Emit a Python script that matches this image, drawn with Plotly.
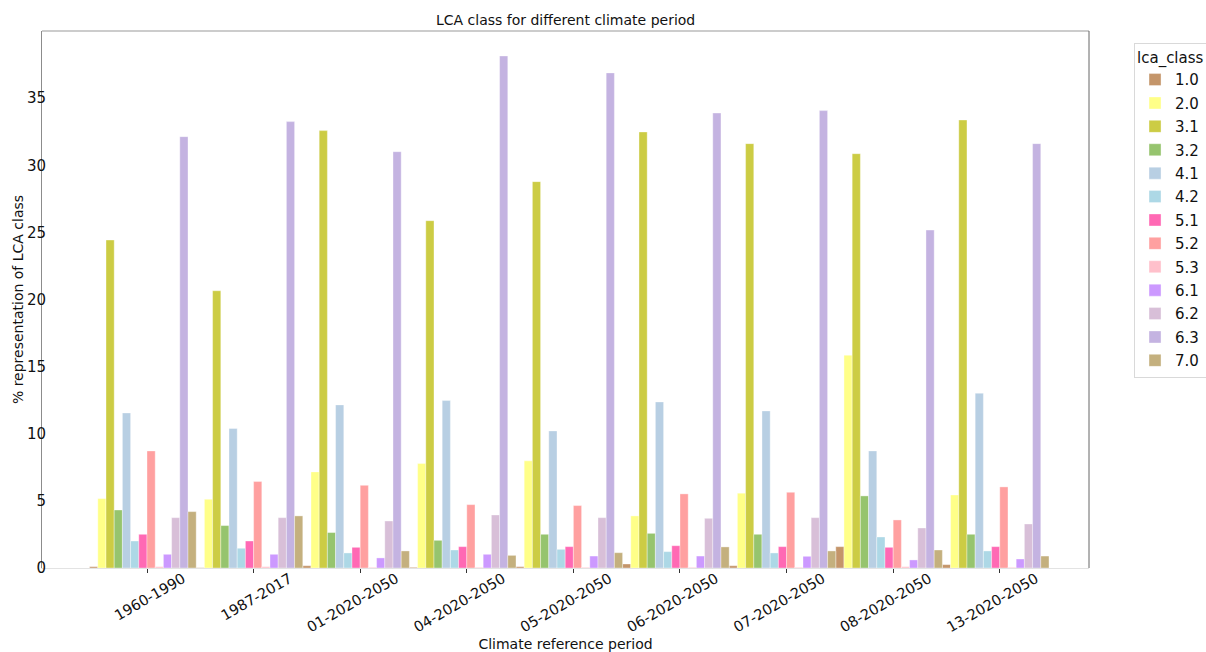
import plotly.graph_objects as go

periods = ["1960-1990", "1987-2017", "01-2020-2050", "04-2020-2050", "05-2020-2050",
           "06-2020-2050", "07-2020-2050", "08-2020-2050", "13-2020-2050"]
classes = ["1.0", "2.0", "3.1", "3.2", "4.1", "4.2", "5.1", "5.2", "5.3", "6.1", "6.2", "6.3", "7.0"]

v10 = [0.10, 0.02, 0.17, 0.05, 0.10, 0.30, 0.17, 1.59, 0.25]
v20 = [5.17, 5.12, 7.16, 7.78, 7.98, 3.88, 5.57, 15.85, 5.44]
v31 = [24.43, 20.65, 32.58, 25.87, 28.78, 32.48, 31.61, 30.86, 33.37]
v32 = [4.32, 3.16, 2.64, 2.06, 2.51, 2.58, 2.51, 5.37, 2.51]
v41 = [11.55, 10.39, 12.15, 12.47, 10.21, 12.37, 11.70, 8.72, 13.02]
v42 = [2.01, 1.47, 1.12, 1.34, 1.39, 1.22, 1.12, 2.31, 1.27]
v51 = [2.51, 2.01, 1.54, 1.59, 1.59, 1.66, 1.59, 1.54, 1.59]
v52 = [8.72, 6.44, 6.16, 4.72, 4.65, 5.52, 5.64, 3.58, 6.04]
v53 = [0.10, 0.10, 0.05, 0.05, 0.05, 0.05, 0.05, 0.10, 0.05]
v61 = [1.02, 1.02, 0.75, 1.02, 0.89, 0.89, 0.87, 0.60, 0.67]
v62 = [3.75, 3.75, 3.50, 3.95, 3.75, 3.70, 3.75, 2.98, 3.28]
v63 = [32.13, 33.25, 31.01, 38.14, 36.88, 33.89, 34.07, 25.17, 31.61]
v70 = [4.20, 3.88, 1.27, 0.94, 1.14, 1.57, 1.27, 1.34, 0.89]

values = [v10, v20, v31, v32, v41, v42, v51, v52, v53, v61, v62, v63, v70]
colors = ["#C4956A", "#FFFF88", "#CCCC44", "#96C46E", "#B8CFE3", "#ADD8E6", "#FF69B4",
          "#FFA0A0", "#FFC0CB", "#CC99FF", "#D8BFD8", "#C4B3E1", "#C4B07E"]

n = len(classes)
bw = 1.0 / n
FONT = "DejaVu Sans"

fig = go.Figure()
for k, (cls, vals, col) in enumerate(zip(classes, values, colors)):
    fig.add_trace(go.Bar(
        x=periods, y=vals, name=cls, legendgroup=cls,
        width=bw, offset=(k - 7) * bw,
        marker=dict(color=col, line=dict(color="rgba(255,255,255,0.45)", width=0.8)),
    ))

fig.update_layout(
    width=1206, height=652,
    barmode="overlay",
    paper_bgcolor="white", plot_bgcolor="white",
    margin=dict(l=42, r=117, t=31, b=84, autoexpand=False),
    font=dict(family=FONT, color="#111"),
    title=dict(text="LCA class for different climate period", x=0.469, xanchor="center",
               y=0.969, yanchor="middle", font=dict(size=14, family=FONT, color="#111")),
    legend=dict(
        title=dict(text="lca_class", font=dict(size=15, family=FONT)),
        font=dict(size=15, family=FONT),
        x=1.043, xanchor="left", y=0.978, yanchor="top",
        bordercolor="#d9d9d9", borderwidth=1, bgcolor="white",
        tracegroupgap=0.9,
        itemclick=False,
    ),
    xaxis=dict(
        type="category", automargin=False,
        range=[-0.985, 8.837],
        showline=True, linecolor="#e3e3e3", linewidth=1,
        ticks="outside", ticklen=4, tickcolor="#333",
        tickangle=-30, ticklabelshift=36, ticklabelstandoff=-8,
        tickfont=dict(size=14.5, family=FONT, color="#111"),
        showgrid=False, zeroline=False,
        title=dict(text="Climate reference period", standoff=6,
                   font=dict(size=14, family=FONT, color="#111")),
    ),
    yaxis=dict(
        automargin=False,
        range=[0, 40],
        tickvals=[0, 5, 10, 15, 20, 25, 30, 35],
        showline=True, linecolor="#8c8c8c", linewidth=1,
        ticks="", ticklabelstandoff=-8,
        tickfont=dict(size=15, family=FONT, color="#111"),
        showgrid=False, zeroline=False,
        title=dict(text="% representation of LCA class", standoff=0,
                   font=dict(size=14, family=FONT, color="#111")),
    ),
    shapes=[
        dict(type="line", xref="paper", yref="paper", x0=0, x1=1, y0=1, y1=1,
             line=dict(color="#999999", width=1)),
        dict(type="line", xref="paper", yref="paper", x0=1, x1=1, y0=0, y1=1,
             line=dict(color="#666666", width=1)),
    ],
)

fig.write_html("out.html", config={"displayModeBar": False},
               post_script="document.body.style.margin='0';document.body.style.overflow='hidden';")
